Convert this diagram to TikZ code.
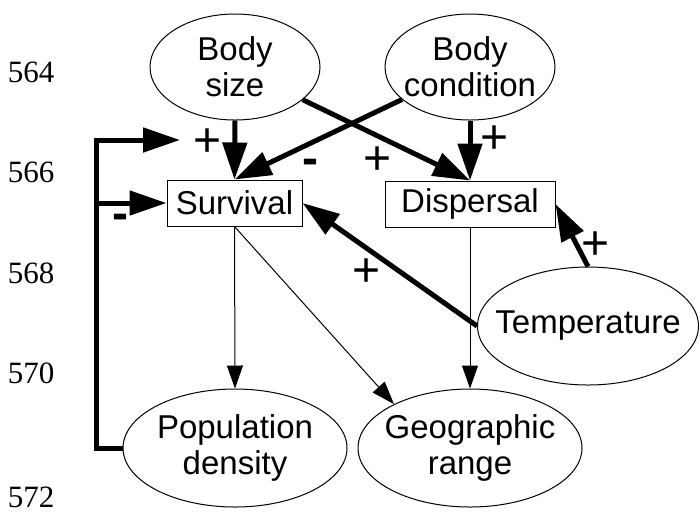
\documentclass[tikz,border=0pt]{standalone}
\usepackage{fontspec}
\setmainfont{Liberation Sans}
\newfontfamily\numfont{Liberation Serif}
\usetikzlibrary{shapes,positioning,arrows.meta}

\begin{document}
\begin{tikzpicture}
[x=0.5pt, y=-0.5pt, every node/.style={font=\fontsize{16.5}{18}\selectfont, align=center, inner sep=0pt},
 factor/.style={ellipse, draw, line width=0.5pt, inner xsep=-10pt},
 response/.style={rectangle, draw, line width=0.5pt, minimum height=23pt},
 strong/.style={line width=2.5pt, -{Triangle[length=18.5pt,width=12pt]}},
 weak/.style={line width=0.5pt, -{Triangle[length=11.5pt,width=8pt]}},
 plus/.style={font=\fontsize{24}{24}\selectfont},
 minus/.style={font=\fontsize{24}{24}\selectfont\bfseries},
 linenum/.style={font=\numfont\fontsize{15.5}{16}\selectfont}]
\useasboundingbox (0,0) rectangle (700,511);
\node[factor, minimum width=85pt, minimum height=53pt] (bsize) at (235,67) {Body\\size};
\node[factor, minimum width=85pt, minimum height=53pt] (bcond) at (470,67) {Body\\condition};
\node[response, minimum width=67.5pt] (surv) at (234.5,203) {Survival};
\node[response, minimum width=85pt] (disp) at (470,204) {Dispersal};
\node[factor, minimum width=110.5pt, minimum height=59pt] (temp) at (588,326) {Temperature};
\node[factor, minimum width=112pt, minimum height=59pt] (popd) at (235,448) {Population\\density};
\node[factor, minimum width=112pt, minimum height=59pt] (geo) at (470,448) {Geographic\\range};

\draw[strong] (bsize.south) -- (surv.north);
\draw[strong] (bcond) -- (surv.north);
\draw[strong] (bsize) -- (disp.north);
\draw[strong] (bcond.south) -- (disp.north);
\draw[strong] (temp.west) -- (surv.east);
\draw[strong] (temp.north) -- (disp.east);
\draw[weak] (surv.south) -- (popd.north);
\draw[weak] (surv.south) -- (geo.150);
\draw[weak] (disp.south) -- (geo.north);
\coordinate (fbtip) at (180,140);
\draw[strong] (popd.west) -- ++(-26,0) |- (fbtip);
\draw[strong] ([xshift=-13pt]popd.west |- surv.west) -- (surv.west);

\node[plus] (fbplus) at (208,143) {+};
\node[minus] (fbminus) at (120,222) {-};
\node[minus] (bcminus) at (310,167) {-};
\node[plus] (bsplus) at (378,161) {+};
\node[plus] (bcplus) at (495,140) {+};
\node[plus] (tsplus) at (367,273) {+};
\node[plus] (tdplus) at (596,246) {+};

\node[linenum] (l564) at (31,72) {564};
\node[linenum] (l566) at (31,172) {566};
\node[linenum] (l568) at (31,273) {568};
\node[linenum] (l570) at (31,373) {570};
\node[linenum] (l572) at (31,497) {572};
\end{tikzpicture}
\end{document}
